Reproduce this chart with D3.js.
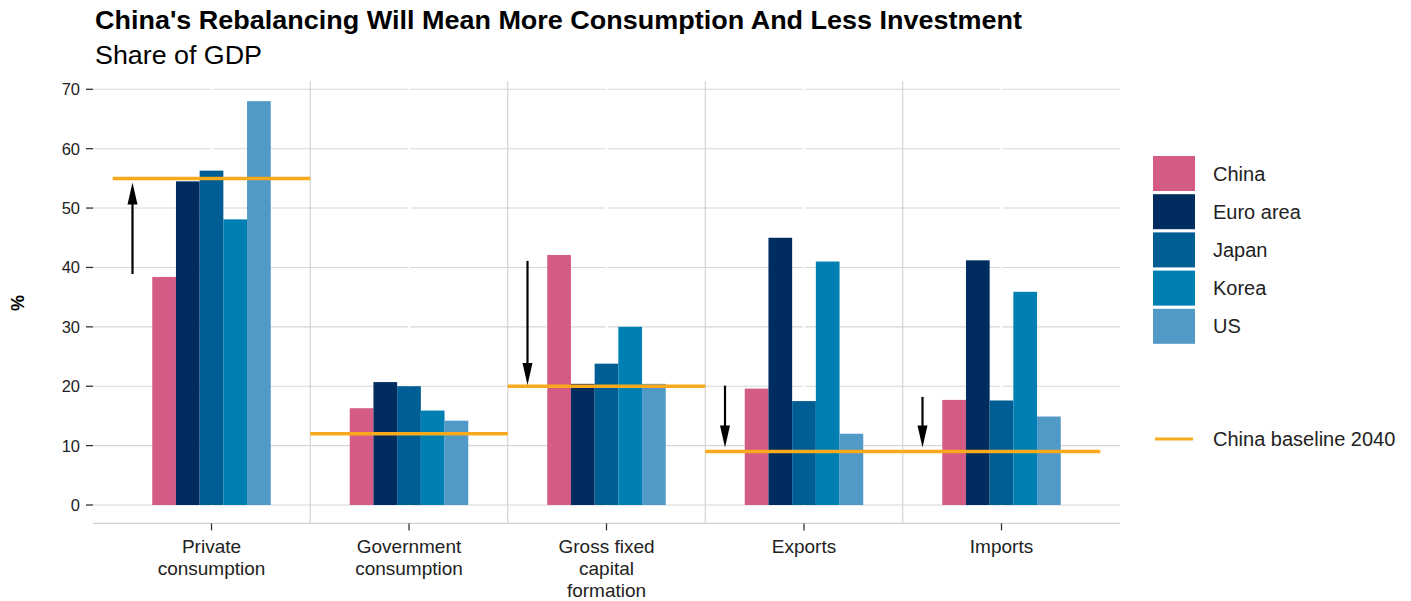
<!DOCTYPE html>
<html>
<head>
<meta charset="utf-8">
<script src="https://cdn.jsdelivr.net/npm/d3@7"></script>
<style>
  html, body { margin: 0; padding: 0; background: #fff; }
  svg { display: block; font-family: "Liberation Sans", Arial, Helvetica, sans-serif; }
</style>
</head>
<body>
<svg id="chart" width="1411" height="601"></svg>
<script>
// ---- data ----
const categories = ["Private consumption", "Government consumption", "Gross fixed capital formation", "Exports", "Imports"];
const categoryLabels = [["Private", "consumption"], ["Government", "consumption"], ["Gross fixed", "capital", "formation"], ["Exports"], ["Imports"]];
const seriesNames = ["China", "Euro area", "Japan", "Korea", "US"];
const china   = [38.4, 16.3, 42.1, 19.6, 17.7];
const euroArea = [54.5, 20.7, 20.4, 45.0, 41.2];
const japan   = [56.3, 20.0, 23.8, 17.5, 17.6];
const korea   = [48.1, 15.9, 30.0, 41.0, 35.9];
const us      = [68.0, 14.2, 20.4, 12.0, 14.9];
const baseline2040 = [55, 12, 20, 9, 9];
const arrowFrom = [38.9, null, 41.1, 20.1, 18.2];
const arrowTo   = [54.3, null, 20.2, 9.7, 9.7];
const yTicks = [0, 10, 20, 30, 40, 50, 60, 70];
const seriesColors = ["#d35b85", "#002c5f", "#005e95", "#0080b2", "#5199c6"];
const baselineColor = "#f8a91c";

const seriesValues = [china, euroArea, japan, korea, us];
const rows = categories.map((c, i) => ({
  cat: c,
  values: seriesNames.map((s, j) => ({ series: s, value: seriesValues[j][i] }))
}));

// ---- layout ----
const svg = d3.select("#chart");
const panelLeft = 93, panelRight = 1120;

const x = d3.scaleBand().domain(categories).range([panelLeft, panelRight])
  .paddingInner(0.4).paddingOuter(0.3);
const step = x.step();
const cx = c => x(c) + x.bandwidth() / 2;
const xs = d3.scaleBand().domain(seriesNames).range([0, x.bandwidth()]).padding(0);

const y = d3.scaleLinear().domain([0, 70]).range([505, 89.3]);
const panelTop = y(71.4), panelBottom = y(-3.1);

// ---- grid ----
const grid = svg.append("g");
grid.selectAll("line.h").data(yTicks).join("line")
  .attr("x1", panelLeft).attr("x2", panelRight)
  .attr("y1", d => y(d)).attr("y2", d => y(d))
  .attr("stroke", "#d6d6d6").attr("stroke-width", 1.1);
grid.selectAll("line.c").data(categories).join("line")
  .attr("x1", d => cx(d)).attr("x2", d => cx(d))
  .attr("y1", panelTop).attr("y2", panelBottom)
  .attr("stroke", "#ffffff").attr("stroke-width", 2.5);
grid.selectAll("line.b").data(categories.slice(1)).join("line")
  .attr("x1", d => cx(d) - step / 2).attr("x2", d => cx(d) - step / 2)
  .attr("y1", panelTop).attr("y2", panelBottom)
  .attr("stroke", "#d0d0d0").attr("stroke-width", 1.1);
grid.append("line")
  .attr("x1", panelLeft).attr("x2", panelRight)
  .attr("y1", panelBottom).attr("y2", panelBottom)
  .attr("stroke", "#d0d0d0").attr("stroke-width", 1.1);

// ---- bars ----
const groups = svg.append("g").selectAll("g").data(rows).join("g")
  .attr("transform", d => `translate(${x(d.cat)},0)`);
groups.selectAll("rect").data(d => d.values).join("rect")
  .attr("x", d => xs(d.series))
  .attr("width", xs.bandwidth())
  .attr("y", d => y(d.value))
  .attr("height", d => y(0) - y(d.value))
  .attr("fill", (d, i) => seriesColors[i]);

// ---- baseline segments ----
svg.append("g").selectAll("line").data(categories).join("line")
  .attr("x1", (d) => cx(d) - step / 2)
  .attr("x2", (d) => cx(d) + step / 2)
  .attr("y1", (d, i) => y(baseline2040[i]))
  .attr("y2", (d, i) => y(baseline2040[i]))
  .attr("stroke", baselineColor).attr("stroke-width", 3.5);

// ---- arrows ----
const arrowData = categories.map((c, i) => ({ c, from: arrowFrom[i], to: arrowTo[i] }))
  .filter(d => d.from != null);
const headLen = 22, headHalf = 5;
const arrows = svg.append("g").selectAll("g").data(arrowData).join("g");
arrows.append("line")
  .attr("x1", d => cx(d.c) - 0.4 * step).attr("x2", d => cx(d.c) - 0.4 * step)
  .attr("y1", d => y(d.from))
  .attr("y2", d => { const dir = d.to > d.from ? 1 : -1; return y(d.to) + dir * (headLen - 2); })
  .attr("stroke", "#000").attr("stroke-width", 2.2);
arrows.append("path")
  .attr("d", d => {
    const ax = cx(d.c) - 0.4 * step;
    const ty = y(d.to);
    const dir = d.to > d.from ? 1 : -1;
    const by = ty + dir * headLen;
    return `M${ax},${ty}L${ax - headHalf},${by}L${ax + headHalf},${by}Z`;
  })
  .attr("fill", "#000");

// ---- axes ----
const yAxis = svg.append("g");
yAxis.selectAll("line").data(yTicks).join("line")
  .attr("x1", 86).attr("x2", 93)
  .attr("y1", d => y(d)).attr("y2", d => y(d))
  .attr("stroke", "#333").attr("stroke-width", 1.3);
yAxis.selectAll("text").data(yTicks).join("text")
  .attr("x", 80).attr("y", d => y(d))
  .attr("dy", "0.36em")
  .attr("text-anchor", "end")
  .attr("font-size", 16.5).attr("fill", "#222")
  .text(d => d);

const xAxis = svg.append("g");
xAxis.selectAll("line").data(categories).join("line")
  .attr("x1", d => cx(d)).attr("x2", d => cx(d))
  .attr("y1", panelBottom).attr("y2", panelBottom + 7)
  .attr("stroke", "#333").attr("stroke-width", 1.3);
const xl = xAxis.selectAll("text").data(categories).join("text")
  .attr("text-anchor", "middle")
  .attr("font-size", 19).attr("fill", "#222");
xl.each(function (d, i) {
  d3.select(this).selectAll("tspan").data(categoryLabels[i]).join("tspan")
    .attr("x", cx(d))
    .attr("y", (t, k) => 553 + k * 22)
    .text(t => t);
});

// y title
svg.append("text")
  .attr("transform", "translate(24,303) rotate(-90)")
  .attr("text-anchor", "middle")
  .attr("font-size", 18).attr("font-weight", "bold").attr("fill", "#000")
  .text("%");

// ---- titles ----
svg.append("text").attr("x", 95).attr("y", 29)
  .attr("font-size", 25).attr("font-weight", "bold").attr("fill", "#000")
  .attr("textLength", 927).attr("lengthAdjust", "spacingAndGlyphs")
  .text("China's Rebalancing Will Mean More Consumption And Less Investment");
svg.append("text").attr("x", 95).attr("y", 64)
  .attr("font-size", 26).attr("fill", "#000")
  .attr("textLength", 167).attr("lengthAdjust", "spacingAndGlyphs")
  .text("Share of GDP");

// ---- legend ----
const legend = svg.append("g");
const keyTop = 156, keyPitch = 38.2, keyH = 35, keyW = 42, keyX = 1153;
const lg = legend.selectAll("g").data(seriesNames).join("g")
  .attr("transform", (d, i) => `translate(${keyX},${keyTop + i * keyPitch})`);
lg.append("rect").attr("width", keyW).attr("height", keyH)
  .attr("fill", (d, i) => seriesColors[i]);
lg.append("text").attr("x", 60).attr("y", keyH / 2).attr("dy", "0.36em")
  .attr("font-size", 20).attr("fill", "#222").text(d => d);

const bl = legend.append("g").attr("transform", "translate(1153,439)");
bl.append("line").attr("x1", 2).attr("x2", 40).attr("y1", 0).attr("y2", 0)
  .attr("stroke", baselineColor).attr("stroke-width", 3);
bl.append("text").attr("x", 60).attr("y", 0).attr("dy", "0.36em")
  .attr("font-size", 20).attr("fill", "#222").text("China baseline 2040");
</script>
</body>
</html>
